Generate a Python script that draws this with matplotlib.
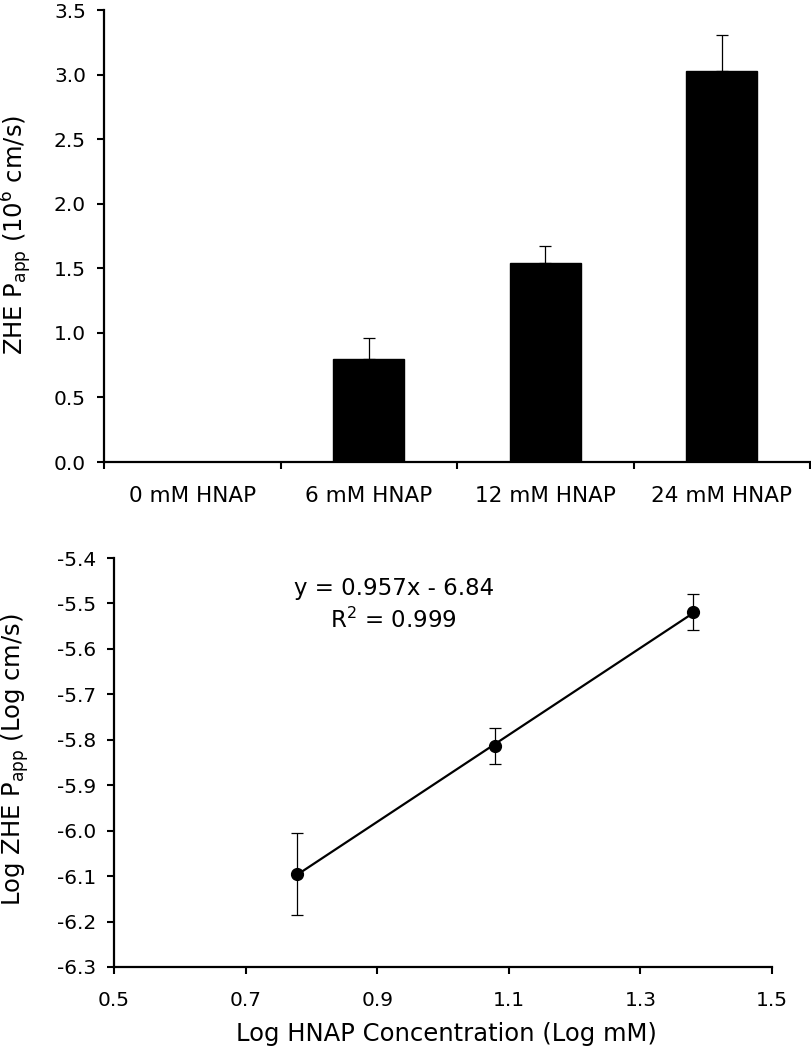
import numpy as np
import matplotlib
matplotlib.use("Agg")
import matplotlib.pyplot as plt

plt.rcParams['font.family'] = ['DejaVu Sans']
plt.rcParams['mathtext.default'] = 'regular'

# ---- data ----
categories = ['0 mM HNAP', '6 mM HNAP', '12 mM HNAP', '24 mM HNAP']
papp = [0.0, 0.80, 1.54, 3.03]
papp_err = [0.0, 0.16, 0.135, 0.28]

log_conc = [0.778, 1.079, 1.380]
log_papp = [-6.095, -5.814, -5.519]
log_err = [0.09, 0.04, 0.04]

eq_text = 'y = 0.957x - 6.84'
r2_text = 'R$^2$ = 0.999'

FS_TICK = 14.5
FS_CAT = 15.5
FS_LAB = 17.5
FS_EQ = 16.5

fig = plt.figure(figsize=(8.12, 10.5), dpi=100)

# ---- top: bar chart ----
ax1 = fig.add_axes([104/812, 1-462/1050, (810-104)/812, (462-10)/1050])
x = np.arange(len(categories))
ax1.bar(x, papp, width=0.4, color='black', edgecolor='black')
idx = [i for i, e in enumerate(papp_err) if e > 0]
ax1.errorbar([x[i] for i in idx], [papp[i] for i in idx],
             yerr=[[0]*len(idx), [papp_err[i] for i in idx]],
             fmt='none', ecolor='black', elinewidth=0.9, capsize=4, capthick=0.9)
ax1.set_xlim(-0.5, len(categories) - 0.5)
ax1.set_ylim(0, 3.5)
ax1.set_yticks(np.arange(0, 3.51, 0.5))
ax1.set_yticklabels([f'{v:.1f}' for v in np.arange(0, 3.51, 0.5)])
ax1.set_xticks(np.arange(-0.5, len(categories), 1.0))
ax1.set_xticklabels([])
ax1.set_xticks(x, minor=True)
ax1.set_xticklabels(categories, minor=True)
ax1.tick_params(axis='x', which='minor', length=0, pad=17, labelsize=FS_CAT)
ax1.tick_params(axis='x', which='major', length=5, width=1.5, direction='out')
ax1.tick_params(axis='y', length=5, width=1.5, direction='out', pad=8, labelsize=FS_TICK)
for s in ['top', 'right']:
    ax1.spines[s].set_visible(False)
for s in ['left', 'bottom']:
    ax1.spines[s].set_linewidth(1.6)
fig.text(16/812, 1-235/1050, r'ZHE P$_{app}$ (10$^{6}$ cm/s)', rotation=90,
         ha='center', va='center', fontsize=FS_LAB)

# ---- bottom: log-log regression ----
ax2 = fig.add_axes([114/812, 1-967/1050, (772-114)/812, (967-558)/1050])
slope, intercept = np.polyfit(log_conc, log_papp, 1)
xl = np.array([min(log_conc), max(log_conc)])
ax2.plot(xl, slope*xl + intercept, color='black', lw=1.6)
ax2.errorbar(log_conc, log_papp, yerr=log_err, fmt='o', color='black',
             markersize=8.5, ecolor='black', elinewidth=0.9, capsize=4, capthick=0.9)
ax2.set_xlim(0.5, 1.5)
ax2.set_ylim(-6.3, -5.4)
xt = np.arange(0.5, 1.51, 0.2)
ax2.set_xticks(xt)
ax2.set_xticklabels([f'{v:.1f}' for v in xt])
yt = np.arange(-6.3, -5.39, 0.1)
ax2.set_yticks(yt)
ax2.set_yticklabels([f'{v:.1f}' for v in yt])
ax2.tick_params(axis='x', length=5, width=1.5, direction='out', pad=12, labelsize=FS_TICK)
ax2.tick_params(axis='y', length=5, width=1.5, direction='out', pad=8, labelsize=FS_TICK)
for s in ['top', 'right']:
    ax2.spines[s].set_visible(False)
for s in ['left', 'bottom']:
    ax2.spines[s].set_linewidth(1.6)
ax2.text(0.925, -5.468, eq_text, ha='center', va='center', fontsize=FS_EQ)
ax2.text(0.925, -5.537, r2_text, ha='center', va='center', fontsize=FS_EQ)
fig.text(15/812, 1-760/1050, r'Log ZHE P$_{app}$ (Log cm/s)', rotation=90,
         ha='center', va='center', fontsize=FS_LAB)
fig.text(446/812, 1-1034/1050, 'Log HNAP Concentration (Log mM)',
         ha='center', va='center', fontsize=FS_LAB)

fig.savefig('out.png', dpi=100)
